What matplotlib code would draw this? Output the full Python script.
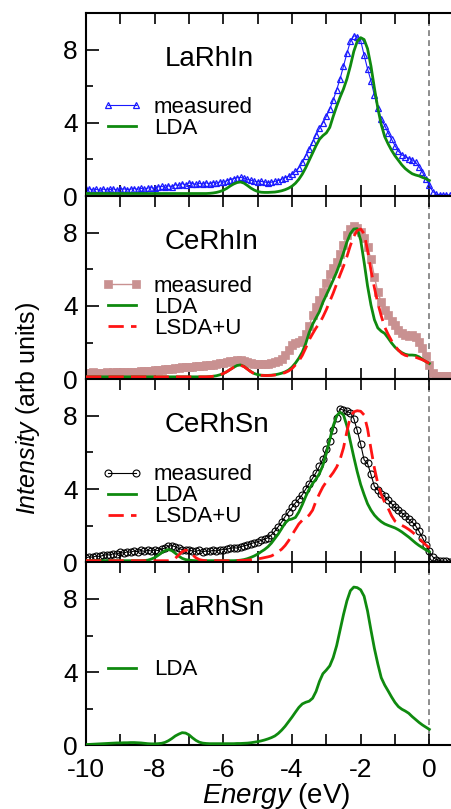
import numpy as np
import matplotlib
matplotlib.use("Agg")
import matplotlib.pyplot as plt
from matplotlib.ticker import MultipleLocator

plt.rcParams['font.family'] = ['Liberation Sans', 'DejaVu Sans']
plt.rcParams['axes.unicode_minus'] = False
plt.rcParams['mathtext.fontset'] = 'custom'
plt.rcParams['mathtext.rm'] = 'Liberation Sans'
plt.rcParams['mathtext.it'] = 'Liberation Sans:italic'

# ---------------- data ----------------
energy_meas = np.round(np.arange(-10.0, 0.75, 0.1), 1)   # -10.0 .. 0.7
energy_calc = np.round(np.arange(-10.0, 0.05, 0.1), 1)   # -10.0 .. 0.0

larhin_measured = [
    0.36, 0.40, 0.33, 0.37, 0.31, 0.38, 0.34, 0.36, 0.39, 0.33,
    0.37, 0.40, 0.35, 0.38, 0.41, 0.37, 0.42, 0.38, 0.44, 0.46,
    0.42, 0.50, 0.54, 0.47, 0.56, 0.52, 0.62, 0.58, 0.68, 0.62,
    0.72, 0.68, 0.64, 0.70, 0.66, 0.72, 0.68, 0.74, 0.70, 0.78,
    0.76, 0.84, 0.90, 0.96, 1.00, 1.02, 0.98, 0.92, 0.86, 0.82,
    0.78, 0.80, 0.77, 0.74, 0.76, 0.80, 0.85, 0.92, 1.00, 1.08,
    1.18, 1.35, 1.55, 1.85, 2.20, 2.55, 2.95, 3.35, 3.70, 4.00,
    4.35, 4.75, 5.25, 5.80, 6.40, 7.10, 7.80, 8.45, 8.75, 8.70,
    8.50, 7.70, 6.95, 6.30, 5.50, 4.80, 4.20, 3.85, 3.45, 3.10,
    2.75, 2.45, 2.25, 2.15, 2.05, 1.98, 1.85, 1.60, 1.30, 0.95,
    0.60, 0.25, 0.10, 0.08, 0.06, 0.07, 0.05, 0.06]

larhin_lda = [
    0.14, 0.14, 0.14, 0.14, 0.14, 0.14, 0.14, 0.14, 0.14, 0.14,
    0.14, 0.14, 0.14, 0.14, 0.14, 0.14, 0.14, 0.14, 0.14, 0.14,
    0.14, 0.14, 0.14, 0.14, 0.14, 0.14, 0.14, 0.14, 0.14, 0.14,
    0.14, 0.14, 0.14, 0.14, 0.14, 0.14, 0.15, 0.17, 0.20, 0.25,
    0.32, 0.42, 0.55, 0.66, 0.74, 0.77, 0.71, 0.58, 0.44, 0.33,
    0.25, 0.21, 0.20, 0.20, 0.21, 0.22, 0.25, 0.29, 0.35, 0.43,
    0.54, 0.70, 0.92, 1.20, 1.55, 1.95, 2.35, 2.75, 3.10, 3.30,
    3.45, 3.75, 4.35, 4.90, 5.40, 5.85, 6.40, 7.10, 7.90, 8.45,
    8.65, 8.55, 8.05, 7.10, 5.90, 4.80, 3.90, 3.25, 2.85, 2.50,
    2.20, 1.95, 1.70, 1.50, 1.35, 1.22, 1.15, 1.10, 1.02, 0.95,
    0.85]

cerhin_measured = [
    0.36, 0.35, 0.37, 0.34, 0.36, 0.35, 0.37, 0.35, 0.38, 0.37,
    0.38, 0.37, 0.40, 0.39, 0.42, 0.41, 0.44, 0.43, 0.46, 0.47,
    0.48, 0.50, 0.52, 0.54, 0.56, 0.58, 0.60, 0.62, 0.64, 0.66,
    0.67, 0.69, 0.71, 0.73, 0.74, 0.76, 0.78, 0.80, 0.83, 0.86,
    0.89, 0.93, 0.97, 1.01, 1.04, 1.04, 1.00, 0.94, 0.88, 0.84,
    0.82, 0.83, 0.84, 0.85, 0.87, 0.93, 1.02, 1.13, 1.32, 1.58,
    1.85, 2.00, 2.05, 2.15, 2.45, 2.90, 3.50, 3.95, 4.30, 4.75,
    5.25, 5.75, 6.05, 6.40, 6.85, 7.35, 7.85, 8.20, 8.35, 8.25,
    8.05, 7.70, 7.20, 6.55, 5.60, 4.75, 4.20, 3.80, 3.50, 3.20,
    2.95, 2.70, 2.50, 2.40, 2.38, 2.40, 2.30, 2.05, 1.70, 1.25,
    0.80, 0.35, 0.20, 0.17, 0.17, 0.18, 0.17, 0.17]

cerhin_lda = [
    0.13, 0.13, 0.13, 0.13, 0.13, 0.13, 0.13, 0.13, 0.13, 0.13,
    0.13, 0.13, 0.13, 0.13, 0.13, 0.13, 0.13, 0.13, 0.13, 0.13,
    0.13, 0.13, 0.13, 0.13, 0.13, 0.13, 0.13, 0.13, 0.13, 0.13,
    0.13, 0.13, 0.13, 0.13, 0.13, 0.13, 0.14, 0.16, 0.19, 0.24,
    0.31, 0.41, 0.53, 0.65, 0.75, 0.78, 0.70, 0.56, 0.42, 0.31,
    0.25, 0.22, 0.21, 0.21, 0.22, 0.24, 0.28, 0.33, 0.40, 0.50,
    0.66, 0.88, 1.15, 1.48, 1.95, 2.55, 3.00, 3.35, 3.70, 4.20,
    4.60, 5.00, 5.42, 5.85, 6.35, 6.90, 7.50, 7.95, 8.20, 8.22,
    7.60, 6.40, 5.10, 4.05, 3.25, 2.80, 2.62, 2.50, 2.25, 1.98,
    1.75, 1.58, 1.45, 1.36, 1.32, 1.32, 1.30, 1.22, 1.08, 0.96,
    0.86]

cerhin_lsdau = [
    0.13, 0.13, 0.13, 0.13, 0.13, 0.13, 0.13, 0.13, 0.13, 0.13,
    0.13, 0.13, 0.13, 0.13, 0.13, 0.13, 0.13, 0.13, 0.13, 0.13,
    0.13, 0.13, 0.13, 0.13, 0.13, 0.13, 0.13, 0.13, 0.13, 0.13,
    0.13, 0.13, 0.13, 0.13, 0.13, 0.13, 0.14, 0.16, 0.19, 0.24,
    0.31, 0.41, 0.53, 0.65, 0.74, 0.76, 0.69, 0.55, 0.41, 0.30,
    0.24, 0.21, 0.20, 0.20, 0.21, 0.23, 0.26, 0.30, 0.36, 0.45,
    0.58, 0.78, 1.00, 1.30, 1.70, 2.15, 2.48, 2.80, 3.05, 3.40,
    3.80, 4.25, 4.70, 5.20, 5.70, 6.17, 6.70, 7.30, 7.80, 8.12,
    8.20, 7.95, 7.05, 5.95, 5.00, 4.15, 3.45, 2.85, 2.45, 2.10,
    1.82, 1.58, 1.40, 1.30, 1.26, 1.24, 1.20, 1.13, 1.06, 0.97,
    0.86]

cerhsn_measured = [
    0.25, 0.30, 0.28, 0.35, 0.32, 0.38, 0.42, 0.40, 0.48, 0.45,
    0.55, 0.50, 0.58, 0.55, 0.62, 0.58, 0.65, 0.60, 0.66, 0.62,
    0.68, 0.64, 0.72, 0.78, 0.88, 0.92, 0.85, 0.76, 0.70, 0.65,
    0.68, 0.62, 0.60, 0.66, 0.58, 0.62, 0.60, 0.66, 0.62, 0.68,
    0.70, 0.72, 0.76, 0.80, 0.78, 0.85, 0.90, 0.95, 1.02, 1.08,
    1.12, 1.20, 1.26, 1.35, 1.50, 1.70, 1.95, 2.20, 2.50, 2.75,
    3.00, 3.25, 3.45, 3.70, 4.00, 4.30, 4.60, 4.90, 5.25, 5.65,
    6.20, 6.60, 7.25, 7.90, 8.40, 8.30, 8.25, 8.15, 7.85, 7.20,
    6.45, 5.60, 5.40, 4.80, 4.15, 3.95, 3.75, 3.60, 3.40, 3.20,
    3.00, 2.85, 2.70, 2.55, 2.35, 2.20, 2.00, 1.70, 1.35, 0.95,
    0.60, 0.30, 0.15, 0.10, 0.06, 0.05, 0.04, 0.04]

cerhsn_lda = [
    0.09, 0.09, 0.09, 0.09, 0.09, 0.09, 0.09, 0.09, 0.09, 0.09,
    0.09, 0.09, 0.09, 0.09, 0.09, 0.09, 0.09, 0.10, 0.12, 0.18,
    0.26, 0.38, 0.52, 0.64, 0.70, 0.64, 0.50, 0.34, 0.22, 0.15,
    0.12, 0.10, 0.09, 0.09, 0.09, 0.09, 0.09, 0.09, 0.09, 0.09,
    0.09, 0.09, 0.09, 0.09, 0.10, 0.12, 0.15, 0.20, 0.27, 0.35,
    0.45, 0.58, 0.70, 0.85, 1.05, 1.30, 1.55, 1.85, 2.15, 2.32,
    2.37, 2.45, 2.75, 3.15, 3.60, 4.00, 4.30, 4.55, 4.85, 5.30,
    5.95, 6.70, 7.45, 8.00, 8.20, 8.05, 7.45, 6.60, 5.75, 4.95,
    4.25, 3.70, 3.20, 2.85, 2.58, 2.38, 2.22, 2.10, 2.02, 1.95,
    1.88, 1.78, 1.66, 1.52, 1.38, 1.22, 1.06, 0.92, 0.80, 0.68,
    0.58]

cerhsn_lsdau = [
    0.09, 0.09, 0.09, 0.09, 0.09, 0.09, 0.09, 0.09, 0.09, 0.09,
    0.09, 0.09, 0.09, 0.09, 0.09, 0.09, 0.09, 0.09, 0.09, 0.09,
    0.09, 0.09, 0.09, 0.09, 0.09, 0.12, 0.22, 0.40, 0.58, 0.67,
    0.60, 0.42, 0.25, 0.15, 0.11, 0.09, 0.09, 0.09, 0.09, 0.09,
    0.09, 0.09, 0.09, 0.09, 0.10, 0.10, 0.11, 0.12, 0.14, 0.16,
    0.19, 0.22, 0.26, 0.30, 0.35, 0.45, 0.58, 0.72, 0.92, 1.18,
    1.50, 1.80, 2.10, 2.30, 2.42, 2.58, 2.85, 3.35, 3.75, 4.12,
    4.40, 4.65, 4.90, 5.20, 5.62, 6.25, 7.15, 7.95, 8.22, 8.28,
    8.25, 8.05, 7.30, 6.20, 5.15, 4.30, 3.70, 3.28, 2.95, 2.55,
    2.25, 2.12, 2.02, 1.92, 1.80, 1.66, 1.50, 1.32, 1.12, 0.95,
    0.80]

larhsn_lda = [
    0.05, 0.06, 0.07, 0.08, 0.09, 0.10, 0.11, 0.12, 0.13, 0.14,
    0.14, 0.15, 0.15, 0.16, 0.16, 0.15, 0.14, 0.12, 0.10, 0.09,
    0.09, 0.10, 0.12, 0.17, 0.26, 0.38, 0.52, 0.62, 0.70, 0.68,
    0.58, 0.42, 0.28, 0.18, 0.13, 0.11, 0.10, 0.10, 0.10, 0.10,
    0.10, 0.10, 0.10, 0.10, 0.11, 0.11, 0.12, 0.13, 0.15, 0.18,
    0.21, 0.25, 0.30, 0.36, 0.43, 0.52, 0.66, 0.84, 1.05, 1.30,
    1.55, 1.82, 2.08, 2.27, 2.36, 2.42, 2.58, 2.95, 3.50, 3.92,
    4.12, 4.35, 4.80, 5.45, 6.30, 7.15, 7.90, 8.45, 8.65, 8.62,
    8.50, 8.15, 7.35, 6.30, 5.30, 4.45, 3.70, 3.30, 2.98, 2.65,
    2.35, 2.12, 1.98, 1.88, 1.76, 1.58, 1.42, 1.26, 1.12, 1.00,
    0.88]

compounds = ["LaRhIn", "CeRhIn", "CeRhSn", "LaRhSn"]
x_ticks = [-10, -8, -6, -4, -2, 0]
y_ticks = [0, 4, 8]

# ---------------- styles ----------------
GREEN = '#0f8a0f'
RED = '#ff1414'
meas_styles = [
    dict(color='#1a1aff', marker='^', mfc='none', mec='#1a1aff', ms=5, mew=0.9, lw=0.8),
    dict(color='#c99191', marker='s', mfc='#c99191', mec='#c99191', ms=5.5, mew=0.5, lw=1.0),
    dict(color='black', marker='o', mfc='none', mec='black', ms=5, mew=0.8, lw=0.8),
    None,
]
measured = [larhin_measured, cerhin_measured, cerhsn_measured, None]
lda = [larhin_lda, cerhin_lda, cerhsn_lda, larhsn_lda]
lsdau = [None, cerhin_lsdau, cerhsn_lsdau, None]
legend_top = [0.54, 0.565, 0.535, 0.47]

fig = plt.figure(figsize=(4.52, 8.09), dpi=100)
axes = fig.subplots(4, 1, sharex=True, gridspec_kw=dict(hspace=0))
fig.subplots_adjust(left=0.1903, right=1.003, top=0.984, bottom=0.0785)

for i, ax in enumerate(axes):
    ax.axvline(0, color='#7a7a7a', lw=1.2, ls=(0, (3.5, 2.5)), zorder=1)
    if measured[i] is not None:
        ax.plot(energy_meas, measured[i], label='measured', zorder=2, **meas_styles[i])
    ax.plot(energy_calc, lda[i], color=GREEN, lw=2.0, label='LDA', zorder=3)
    if lsdau[i] is not None:
        ax.plot(energy_calc, lsdau[i], color=RED, lw=2.0, ls=(0, (5.5, 2.6)),
                label='LSDA+U', zorder=4)
    ax.text(-7.7, 7.5, compounds[i], fontsize=20, ha='left', va='center')
    ax.legend(loc='upper left', bbox_to_anchor=(0.043, legend_top[i]),
              frameon=False, fontsize=16, borderpad=0, borderaxespad=0,
              handlelength=1.85, handletextpad=0.5, labelspacing=0.0,
              numpoints=2)

    ax.set_xlim(-10, 0.7)
    ax.set_ylim(0, 10)
    ax.set_xticks(x_ticks)
    ax.xaxis.set_minor_locator(MultipleLocator(1))
    ax.set_yticks(y_ticks)
    ax.yaxis.set_minor_locator(MultipleLocator(2))
    ax.tick_params(which='both', direction='in', top=True, bottom=True,
                   left=True, right=False, width=1.2, labelsize=19)
    ax.tick_params(axis='x', which='both', length=8, pad=9)
    ax.tick_params(axis='y', which='major', length=9, pad=6)
    ax.tick_params(axis='y', which='minor', length=5)
    for s in ax.spines.values():
        s.set_linewidth(1.5)
    ax.spines['right'].set_visible(False)

fig.text(0.612, 0.008, r'$\mathit{Energy}$ (eV)', fontsize=20,
         ha='center', va='baseline')
fig.text(35 / 452, 1 - 515 / 809, r'$\mathit{Intensity}$ (arb units)',
         fontsize=18, rotation=90, rotation_mode='anchor',
         ha='left', va='baseline')

fig.savefig('out.png', dpi=100)
